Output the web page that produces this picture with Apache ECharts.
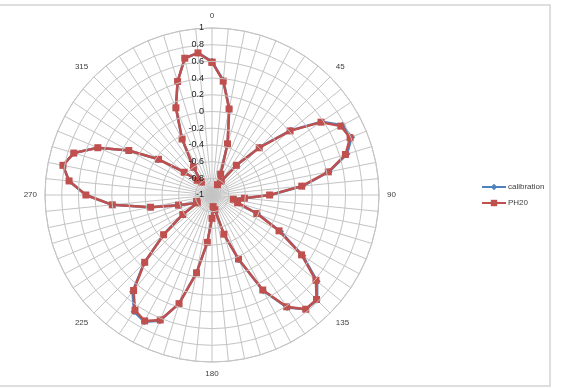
<!DOCTYPE html>
<html>
<head>
<meta charset="utf-8">
<script src="https://cdn.jsdelivr.net/npm/echarts@6/dist/echarts.min.js"></script>
<style>
html,body{margin:0;padding:0;background:#fff;}
#chart{width:561px;height:388px;}
</style>
</head>
<body>
<div id="chart"></div>
<script>
// 64 categories around the circle (step 5.625 degrees)
const angles = Array.from({length: 64}, (_, i) => i * 5.625);
const angleLabels = ['0', '45', '90', '135', '180', '225', '270', '315'];
const radiusLabels = ['-1', '-0.8', '-0.6', '-0.4', '-0.2', '0', '0.2', '0.4', '0.6', '0.8', '1'];

const calibration = [
  0.60, 0.38, 0.06, -0.35, -0.73, -0.86, -0.80, -0.54,
  -0.19, 0.22, 0.58, 0.77, 0.81, 0.69, 0.43, 0.09,
  -0.30, -0.61, -0.74, -0.68, -0.41, -0.07, 0.31, 0.63,
  0.78, 0.77, 0.62, 0.30, -0.16, -0.51, -0.82, -0.86,
  -0.72, -0.43, -0.05, 0.36, 0.63, 0.72, 0.68, 0.50,
  0.15, -0.25, -0.58, -0.80, -0.80, -0.58, -0.25, 0.20,
  0.51, 0.72, 0.82, 0.73, 0.48, 0.13, -0.23, -0.57,
  -0.75, -0.80, -0.60, -0.24, 0.13, 0.42, 0.67, 0.71
];
const ph20 = [
  0.59, 0.37, 0.05, -0.36, -0.73, -0.86, -0.80, -0.54,
  -0.20, 0.21, 0.57, 0.75, 0.79, 0.67, 0.42, 0.08,
  -0.31, -0.61, -0.74, -0.68, -0.42, -0.09, 0.29, 0.61,
  0.77, 0.77, 0.61, 0.29, -0.17, -0.51, -0.82, -0.86,
  -0.72, -0.43, -0.05, 0.36, 0.62, 0.71, 0.66, 0.48,
  0.14, -0.25, -0.58, -0.80, -0.80, -0.58, -0.25, 0.20,
  0.51, 0.72, 0.82, 0.73, 0.48, 0.13, -0.23, -0.57,
  -0.75, -0.80, -0.60, -0.24, 0.13, 0.42, 0.67, 0.71
];

function toPairs(vals) {
  const out = vals.map((v, i) => [v, angles[i]]);
  out.push([vals[0], 360]);
  return out;
}

const chart = echarts.init(document.getElementById('chart'), null, {renderer: 'canvas'});
const gridColor = '#c4c4c4';
chart.setOption({
  animation: false,
  backgroundColor: '#fff',
  graphic: [{
    type: 'rect',
    shape: {x: -2, y: 5, width: 552, height: 381},
    style: {fill: 'none', stroke: '#d4d4d4', lineWidth: 1.5},
    silent: true
  }],
  legend: {
    orient: 'vertical',
    left: 476,
    top: 178,
    itemWidth: 24,
    itemHeight: 8,
    itemGap: 8,
    textStyle: {fontSize: 8, color: '#404040', fontFamily: 'Liberation Sans, Arial, sans-serif', padding: [0, 0, 0, -3]},
    data: ['calibration', 'PH20']
  },
  polar: {center: [212, 195], radius: 167},
  angleAxis: {
    type: 'value',
    min: 0,
    max: 360,
    interval: 5.625,
    startAngle: 90,
    clockwise: true,
    axisLine: {show: true, lineStyle: {color: gridColor, width: 1}},
    axisTick: {show: false},
    splitLine: {show: true, lineStyle: {color: gridColor, width: 1}},
    axisLabel: {
      margin: 8,
      fontSize: 8,
      color: '#404040',
      fontFamily: 'Liberation Sans, Arial, sans-serif',
      formatter: function (v) {
        if (v >= 360) return '';
        const k = Math.round(v / 45);
        return Math.abs(v - k * 45) < 1e-6 ? angleLabels[k] : '';
      }
    }
  },
  radiusAxis: {
    type: 'value',
    min: -1,
    max: 1,
    interval: 0.2,
    axisLine: {show: false},
    axisTick: {show: false},
    splitLine: {show: true, lineStyle: {color: gridColor, width: 1}},
    axisLabel: {
      fontSize: 9,
      color: '#222',
      fontFamily: 'Liberation Sans, Arial, sans-serif',
      formatter: function (v) {
        const k = Math.round((v + 1) / 0.2);
        return radiusLabels[k];
      }
    },
    z: 5
  },
  series: [
    {
      name: 'calibration',
      type: 'line',
      coordinateSystem: 'polar',
      data: toPairs(calibration),
      symbol: 'diamond',
      symbolSize: 7,
      showAllSymbol: true,
      color: '#4F81BD',
      lineStyle: {width: 2.5, color: '#4F81BD'},
      itemStyle: {color: '#4F81BD'},
      z: 2
    },
    {
      name: 'PH20',
      type: 'line',
      coordinateSystem: 'polar',
      data: toPairs(ph20),
      symbol: 'rect',
      symbolSize: 7,
      showAllSymbol: true,
      color: '#C0504D',
      lineStyle: {width: 2.5, color: '#C0504D'},
      itemStyle: {color: '#C0504D'},
      z: 3
    }
  ]
});
</script>
</body>
</html>
